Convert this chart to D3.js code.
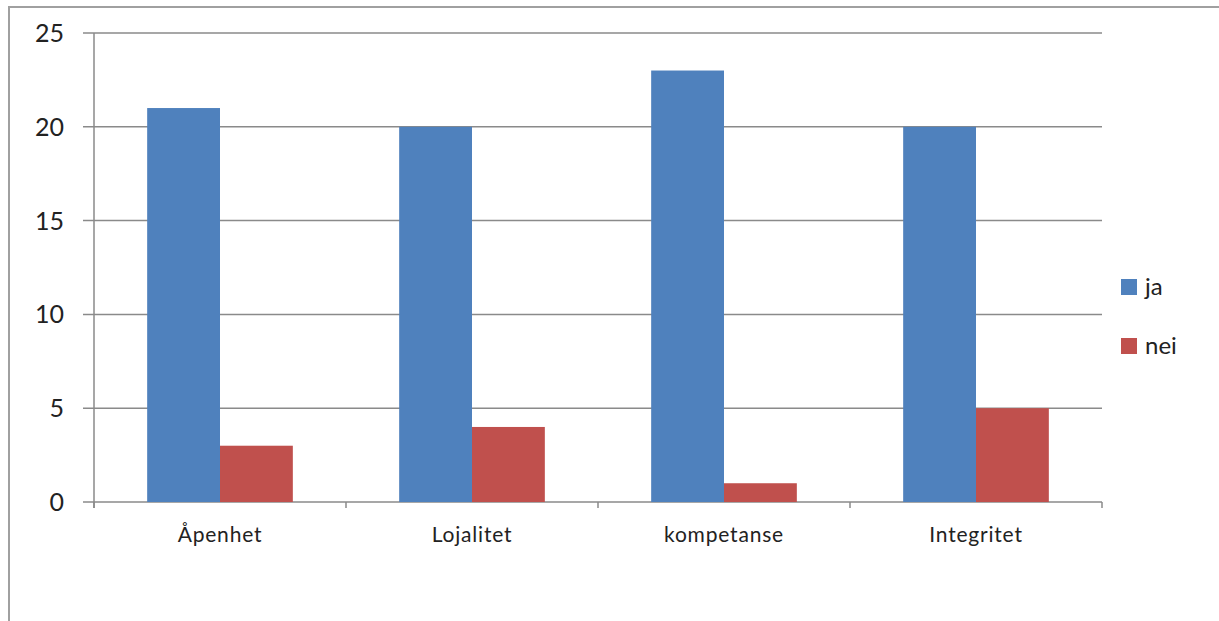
<!DOCTYPE html>
<html>
<head>
<meta charset="utf-8">
<script src="https://cdn.jsdelivr.net/npm/d3@7"></script>
<style>
  body { margin: 0; background: #fff; }
  svg { font-family: Lato, "Open Sans", sans-serif; }
</style>
</head>
<body>
<script>
var categories = ['Åpenhet', 'Lojalitet', 'kompetanse', 'Integritet'];
var seriesNames = ['ja', 'nei'];
var jaValues = [21, 20, 23, 20];
var neiValues = [3, 4, 1, 5];
var yTicks = [0, 5, 10, 15, 20, 25];

var colors = ['#4F81BD', '#C0504D'];
var width = 1219, height = 621;
var plotLeft = 94, plotRight = 1102, plotTop = 33, plotBottom = 502;

var svg = d3.select('body').append('svg')
    .attr('width', width)
    .attr('height', height);

// outer frame
svg.append('rect')
    .attr('x', 9).attr('y', 7)
    .attr('width', 1300).attr('height', 700)
    .attr('fill', 'none')
    .attr('stroke', '#a0a0a0')
    .attr('stroke-width', 2);

var x = d3.scaleBand().domain(categories).range([plotLeft, plotRight]);
var xInner = d3.scaleBand().domain(seriesNames)
    .range([0, x.bandwidth()]).paddingOuter(0.73);
var y = d3.scaleLinear().domain([0, 25]).range([plotBottom, plotTop]);

// gridlines
svg.append('g')
    .selectAll('line')
    .data(yTicks).enter()
    .append('line')
    .attr('x1', plotLeft - 11).attr('x2', plotRight)
    .attr('y1', d => y(d)).attr('y2', d => y(d))
    .attr('stroke', '#8a8a8a')
    .attr('stroke-width', 1.5);

// bars
var data = categories.map((c, i) => ({cat: c, vals: [jaValues[i], neiValues[i]]}));
var groups = svg.append('g')
    .selectAll('g')
    .data(data).enter()
    .append('g')
    .attr('transform', d => `translate(${x(d.cat)},0)`);

groups.selectAll('rect')
    .data(d => d.vals.map((v, j) => ({name: seriesNames[j], v: v, j: j})))
    .enter()
    .append('rect')
    .attr('x', d => xInner(d.name))
    .attr('width', xInner.bandwidth())
    .attr('y', d => y(d.v))
    .attr('height', d => y(0) - y(d.v))
    .attr('fill', d => colors[d.j]);

// y axis line
svg.append('line')
    .attr('x1', plotLeft).attr('x2', plotLeft)
    .attr('y1', plotTop).attr('y2', plotBottom + 6)
    .attr('stroke', '#8a8a8a')
    .attr('stroke-width', 1.5);

// x ticks at category borders
var borders = categories.map(c => x(c)).concat([plotRight]);
svg.append('g')
    .selectAll('line')
    .data(borders).enter()
    .append('line')
    .attr('x1', d => d).attr('x2', d => d)
    .attr('y1', plotBottom).attr('y2', plotBottom + 6)
    .attr('stroke', '#8a8a8a')
    .attr('stroke-width', 1.5);

// y labels
svg.append('g')
    .selectAll('text')
    .data(yTicks).enter()
    .append('text')
    .attr('x', 64)
    .attr('y', d => y(d))
    .attr('dy', '0.36em')
    .attr('text-anchor', 'end')
    .attr('font-size', 25)
    .attr('fill', '#222')
    .text(d => d);

// x labels
svg.append('g')
    .selectAll('text')
    .data(categories).enter()
    .append('text')
    .attr('x', d => x(d) + x.bandwidth() / 2)
    .attr('y', 542)
    .attr('text-anchor', 'middle')
    .attr('font-size', 21)
    .attr('letter-spacing', 0.8)
    .attr('fill', '#222')
    .text(d => d);

// legend
var legend = svg.append('g')
    .selectAll('g')
    .data(seriesNames).enter()
    .append('g')
    .attr('transform', (d, i) => `translate(1121,${279 + i * 59})`);
legend.append('rect')
    .attr('width', 16).attr('height', 16)
    .attr('fill', (d, i) => colors[i]);
legend.append('text')
    .attr('x', 24).attr('y', 16)
    .attr('font-size', 24)
    .attr('fill', '#222')
    .text(d => d);
</script>
</body>
</html>
